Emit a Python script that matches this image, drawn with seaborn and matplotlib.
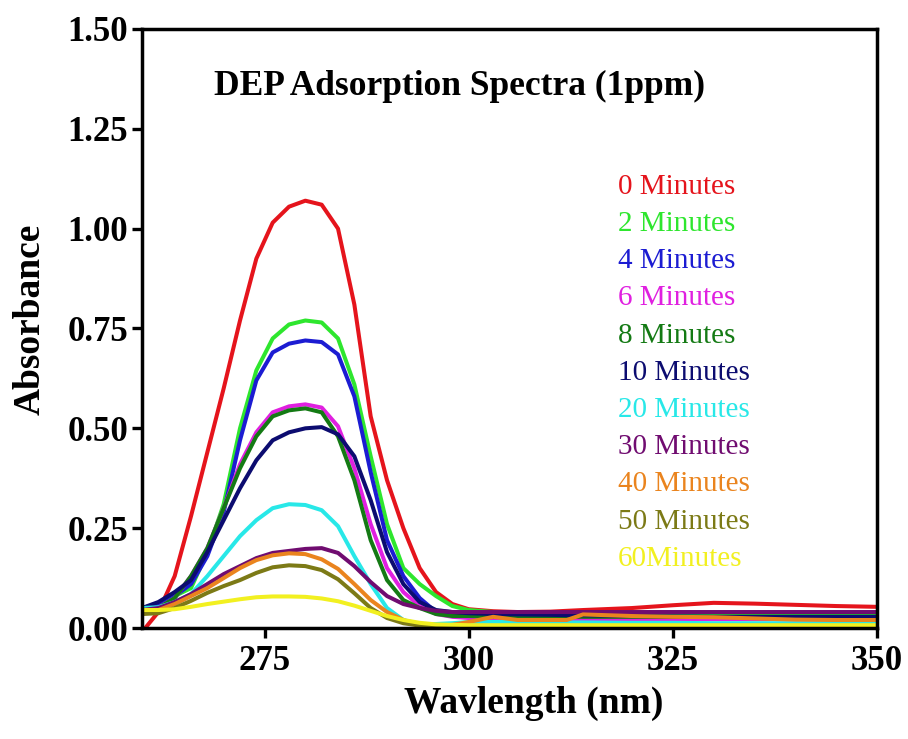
import numpy as np
import pandas as pd
import matplotlib
matplotlib.use("Agg")
import matplotlib.pyplot as plt
import seaborn as sns

# ---- data ----
wavelength = [260, 262, 264, 266, 268, 270, 272, 274, 276, 278, 280, 282, 284, 286, 288,
              290, 292, 294, 296, 298, 300, 303, 306, 310, 312, 314, 320, 325, 330, 335,
              340, 345, 350]

labels = ["0 Minutes", "2 Minutes", "4 Minutes", "6 Minutes", "8 Minutes", "10 Minutes",
          "20 Minutes", "30 Minutes", "40 Minutes", "50 Minutes", "60Minutes"]

abs_0 = [-0.01, 0.04, 0.13, 0.28, 0.44, 0.60, 0.77, 0.925, 1.015, 1.055, 1.07, 1.06, 1.00, 0.81,
         0.53, 0.37, 0.25, 0.15, 0.09, 0.06, 0.047, 0.042, 0.040, 0.041, 0.043, 0.045, 0.050,
         0.057, 0.063, 0.061, 0.058, 0.055, 0.053]
abs_2 = [0.05, 0.06, 0.08, 0.10, 0.19, 0.31, 0.50, 0.645, 0.725, 0.76, 0.77, 0.765, 0.725, 0.61,
         0.43, 0.26, 0.15, 0.11, 0.08, 0.055, 0.045, 0.040, 0.038, 0.035, 0.035, 0.035, 0.035,
         0.035, 0.035, 0.035, 0.035, 0.035, 0.035]
abs_4 = [0.05, 0.06, 0.08, 0.11, 0.18, 0.29, 0.47, 0.62, 0.69, 0.712, 0.72, 0.716, 0.685, 0.58,
         0.39, 0.22, 0.13, 0.075, 0.04, 0.03, 0.028, 0.026, 0.025, 0.025, 0.025, 0.025, 0.025,
         0.025, 0.025, 0.025, 0.025, 0.025, 0.025]
abs_6 = [0.04, 0.05, 0.075, 0.13, 0.20, 0.30, 0.41, 0.49, 0.54, 0.555, 0.56, 0.552, 0.505, 0.40,
         0.26, 0.15, 0.09, 0.055, 0.035, 0.028, 0.025, 0.022, 0.022, 0.022, 0.022, 0.022, 0.022,
         0.022, 0.022, 0.022, 0.022, 0.022, 0.022]
abs_8 = [0.04, 0.05, 0.075, 0.13, 0.20, 0.30, 0.40, 0.48, 0.53, 0.545, 0.55, 0.54, 0.48, 0.37,
         0.22, 0.12, 0.07, 0.05, 0.035, 0.030, 0.030, 0.028, 0.028, 0.028, 0.028, 0.028, 0.028,
         0.028, 0.028, 0.028, 0.028, 0.028, 0.028]
abs_10 = [0.05, 0.065, 0.09, 0.12, 0.19, 0.27, 0.35, 0.42, 0.47, 0.49, 0.50, 0.503, 0.485, 0.43,
          0.32, 0.19, 0.11, 0.065, 0.045, 0.040, 0.037, 0.035, 0.034, 0.033, 0.032, 0.032, 0.030,
          0.029, 0.028, 0.028, 0.028, 0.028, 0.028]
abs_20 = [0.05, 0.052, 0.065, 0.085, 0.13, 0.18, 0.23, 0.27, 0.30, 0.31, 0.308, 0.295, 0.255, 0.18,
          0.11, 0.05, 0.02, 0.01, 0.01, 0.012, 0.015, 0.015, 0.015, 0.014, 0.014, 0.014, 0.013,
          0.013, 0.012, 0.012, 0.012, 0.012, 0.012]
abs_30 = [0.045, 0.05, 0.065, 0.085, 0.11, 0.135, 0.155, 0.175, 0.188, 0.193, 0.198, 0.20, 0.188,
          0.155, 0.115, 0.08, 0.06, 0.05, 0.043, 0.040, 0.040, 0.040, 0.040, 0.040, 0.040, 0.040,
          0.040, 0.040, 0.040, 0.040, 0.040, 0.040, 0.040]
abs_40 = [0.035, 0.045, 0.06, 0.08, 0.10, 0.125, 0.15, 0.17, 0.182, 0.187, 0.185, 0.172, 0.148,
          0.11, 0.07, 0.04, 0.02, 0.005, 0.003, 0.008, 0.015, 0.028, 0.020, 0.020, 0.020, 0.034,
          0.030, 0.028, 0.027, 0.024, 0.021, 0.020, 0.020]
abs_50 = [0.035, 0.037, 0.05, 0.068, 0.088, 0.105, 0.12, 0.138, 0.152, 0.157, 0.155, 0.145, 0.122,
          0.087, 0.05, 0.025, 0.012, 0.006, 0.005, 0.005, 0.005, 0.005, 0.005, 0.005, 0.005, 0.005,
          0.005, 0.005, 0.005, 0.005, 0.005, 0.005, 0.005]
abs_60 = [0.045, 0.045, 0.047, 0.053, 0.06, 0.066, 0.072, 0.077, 0.079, 0.079, 0.078, 0.074, 0.067,
          0.056, 0.043, 0.03, 0.02, 0.013, 0.009, 0.008, 0.007, 0.007, 0.007, 0.007, 0.007, 0.007,
          0.007, 0.007, 0.007, 0.007, 0.007, 0.007, 0.007]

series = [abs_0, abs_2, abs_4, abs_6, abs_8, abs_10, abs_20, abs_30, abs_40, abs_50, abs_60]

colors = ["#e5141c", "#2ee62e", "#1c1cd2", "#e020e0", "#147a14", "#0c0c70",
          "#28e8e8", "#700c70", "#ea841e", "#7c7a16", "#f2f020"]

x_ticks = [275, 300, 325, 350]
y_ticks = [0.00, 0.25, 0.50, 0.75, 1.00, 1.25, 1.50]

# ---- long-form table ----
df = pd.concat([pd.DataFrame({"Wavelength": wavelength, "Absorbance": s, "Time": lab})
                for lab, s in zip(labels, series)], ignore_index=True)

sns.set_style("ticks")
plt.rcParams["font.family"] = ["Liberation Serif", "DejaVu Serif"]
plt.rcParams["text.color"] = "black"
plt.rcParams["axes.labelcolor"] = "black"
plt.rcParams["xtick.color"] = "black"
plt.rcParams["ytick.color"] = "black"
plt.rcParams["lines.solid_capstyle"] = "round"
plt.rcParams["lines.solid_joinstyle"] = "round"

fig = plt.figure(figsize=(9.08, 7.39), dpi=100)
ax = fig.add_axes([0.1564, 0.1502, 0.8095, 0.8106])

sns.lineplot(data=df, x="Wavelength", y="Absorbance", hue="Time", hue_order=labels,
             palette=dict(zip(labels, colors)), linewidth=2.9, ax=ax, sort=False,
             estimator=None)

ax.set_xlim(260, 350)
ax.set_ylim(0, 1.5)
ax.set_xticks(x_ticks)
ax.set_yticks(y_ticks)
ax.set_xticklabels([str(t) for t in x_ticks])
ax.set_yticklabels([f"{t:.2f}" for t in y_ticks])

for lab in ax.get_xticklabels() + ax.get_yticklabels():
    lab.set_fontsize(25)
    lab.set_fontweight("bold")
    lab.set_color("black")

ax.tick_params(axis="both", direction="out", length=7, width=2.4, pad=5, colors="black")
ax.tick_params(axis="y", pad=3)
for side in ["left", "right", "top", "bottom"]:
    ax.spines[side].set_visible(True)
    ax.spines[side].set_linewidth(2.5)
    ax.spines[side].set_color("black")

ax.set_xlabel("Wavlength (nm)", fontsize=27, fontweight="bold", color="black")
ax.set_ylabel("Absorbance", fontsize=27, fontweight="bold", color="black")
ax.xaxis.set_label_coords(0.533, -0.097)
ax.yaxis.set_label_coords(-0.128, 0.516)

ax.text(268.8, 1.355, "DEP Adsorption Spectra (1ppm)", fontsize=25.5, fontweight="bold",
        ha="left", va="center", color="black")

leg = ax.legend(handles=ax.get_lines()[:len(labels)], labels=labels,
                loc="upper left", bbox_to_anchor=(0.647, 0.759), frameon=False,
                handlelength=0, handletextpad=0, borderpad=0, borderaxespad=0,
                labelspacing=0.37, prop={"family": "Liberation Serif", "size": 21},
                labelcolor=colors)
for h in leg.legend_handles:
    h.set_visible(False)

fig.savefig("out.png", dpi=100)
